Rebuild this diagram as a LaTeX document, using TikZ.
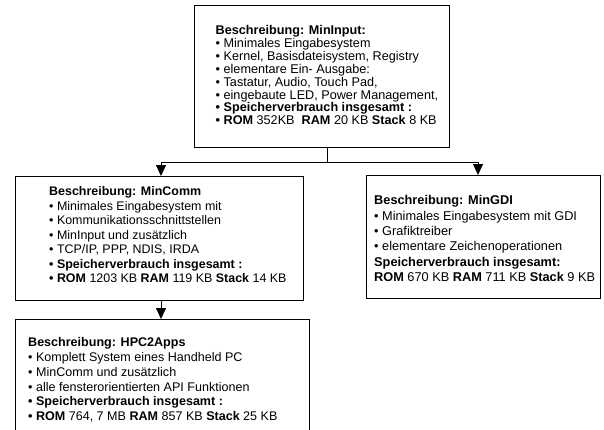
\documentclass[tikz,border=0pt]{standalone}
\usepackage{fontspec}
\setmainfont{Liberation Sans}
\usetikzlibrary{arrows.meta}

\tikzset{
  box/.style={draw=black, line width=0.8pt, anchor=north west, inner sep=0pt},
  desc/.style={anchor=north west, inner sep=0pt, align=left},
  link/.style={draw=black, line width=0.8pt},
  tip/.style={link, -{Triangle[width=10pt,length=11pt]}}
}
\newcommand{\bul}{\textbullet\ }

\begin{document}
\begin{tikzpicture}[x=1pt, y=-1pt]
  \useasboundingbox (0,0) rectangle (604,429);
  \clip (0,0) rectangle (604,429);

  % boxes
  \node[box, minimum width=255pt, minimum height=142pt] (mi) at (194,5) {};
  \node[box, minimum width=288pt, minimum height=124pt] (mc) at (15,176) {};
  \node[box, minimum width=234pt, minimum height=123pt] (mg) at (366,175) {};
  \node[box, minimum width=294pt, minimum height=130pt] (hp) at (15,319) {};

  % descriptions
  \node[desc, font=\fontsize{12.65}{12.9}\selectfont] (timi) at (215.5,25.2) {%
    \textbf{Beschreibung: MinInput:}\\
    \bul Minimales Eingabesystem\\
    \bul Kernel, Basisdateisystem, Registry\\
    \bul elementare Ein- Ausgabe:\\
    \bul Tastatur, Audio, Touch Pad,\\
    \bul eingebaute LED, Power Management,\\
    \textbf{\bul Speicherverbrauch insgesamt :}\\
    \textbf{\bul ROM} 352KB\ \ \textbf{RAM} 20 KB \textbf{Stack} 8 KB};

  \node[desc, font=\fontsize{12.45}{14.5}\selectfont] (timc) at (49,186.4) {%
    \textbf{Beschreibung: MinComm}\\
    \bul Minimales Eingabesystem mit\\
    \bul Kommunikationsschnittstellen\\
    \bul MinInput und zusätzlich\\
    \bul TCP/IP, PPP, NDIS, IRDA\\
    \textbf{\bul Speicherverbrauch insgesamt :}\\
    \textbf{\bul ROM} 1203 KB \textbf{RAM} 119 KB \textbf{Stack} 14 KB};

  \node[desc, font=\fontsize{12.75}{15.4}\selectfont] (timg) at (374,195.2) {%
    \textbf{Beschreibung: MinGDI}\\
    \bul Minimales Eingabesystem mit GDI\\
    \bul Grafiktreiber\\
    \bul elementare Zeichenoperationen\\
    \textbf{Speicherverbrauch insgesamt:}\\
    \textbf{ROM} 670 KB \textbf{RAM} 711 KB \textbf{Stack} 9 KB};

  \node[desc, font=\fontsize{12.55}{14.8}\selectfont] (tihp) at (28,337.3) {%
    \textbf{Beschreibung: HPC2Apps}\\
    \bul Komplett System eines Handheld PC\\
    \bul MinComm und zusätzlich\\
    \bul alle fensterorientierten API Funktionen\\
    \textbf{\bul Speicherverbrauch insgesamt :}\\
    \textbf{\bul ROM} 764, 7 MB \textbf{RAM} 857 KB \textbf{Stack} 25 KB};

  % connectors
  \coordinate (split) at (327,162);
  \coordinate (jl) at (161,162);
  \coordinate (jr) at (478,162);
  \draw[link] (split |- mi.south) -- (split);
  \draw[link] (jl) -- (jr);
  \draw[tip] (jl) -- (jl |- mc.north);
  \draw[tip] (jr) -- (jr |- mg.north);
  \draw[tip] (jl |- mc.south) -- (jl |- hp.north);
\end{tikzpicture}
\end{document}
